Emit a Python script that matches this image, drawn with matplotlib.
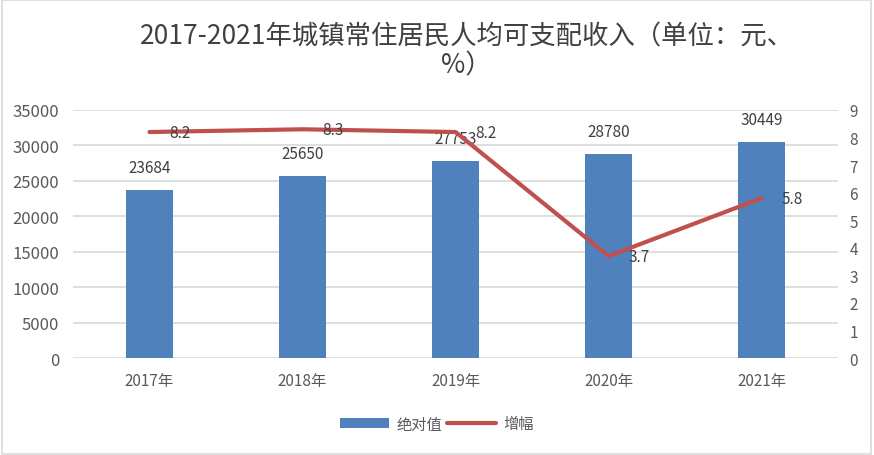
import matplotlib.pyplot as plt
from matplotlib.patches import Rectangle

plt.rcParams['font.family'] = ['Noto Sans CJK SC', 'DejaVu Sans']

# data
years = ['2017年', '2018年', '2019年', '2020年', '2021年']
income = [23684, 25650, 27753, 28780, 30449]
growth = [8.2, 8.3, 8.2, 3.7, 5.8]

bar_color = '#4F81BD'
line_color = '#C0504D'
text_color = '#595959'

fig = plt.figure(figsize=(8.74, 4.56), dpi=100)
ax = fig.add_axes([0.0835, 0.2127, 0.8755, 0.5439])
ax2 = ax.twinx()

x = range(len(years))
bars = ax.bar(x, income, width=0.31, color=bar_color, label='绝对值', zorder=2)
line, = ax2.plot(x, growth, color=line_color, lw=3, label='增幅', zorder=3,
                 solid_capstyle='round', solid_joinstyle='round')

ax.set_xlim(-0.5, 4.5)
ax.set_ylim(0, 35000)
ax.set_yticks(range(0, 35001, 5000))
ax2.set_ylim(0, 9)
ax2.set_yticks(range(0, 10))

ax.set_xticks(list(x))
ax.set_xticklabels(years)
ax.grid(axis='y', color='#D9D9D9', lw=1.2, zorder=0)
ax.set_axisbelow(True)
for a in (ax, ax2):
    for s in a.spines.values():
        s.set_visible(False)
    a.tick_params(length=0, labelsize=11, labelcolor=text_color, pad=8)
ax.tick_params(axis='y', labelsize=12, pad=10)
ax.tick_params(axis='x', pad=10)

# labels
for xi, v in zip(x, income):
    ax.annotate(str(v), (xi, v), xytext=(0, 10), textcoords='offset points',
                ha='center', va='bottom', fontsize=11, color='#404040')
for xi, v in zip(x, growth):
    ax2.annotate(f'{v}', (xi, v), xytext=(14, 0), textcoords='offset points',
                 ha='left', va='center', fontsize=11, color='#404040', zorder=4)

fig.text(0.534, 0.918, '2017-2021年城镇常住居民人均可支配收入（单位：元、',
         ha='center', va='center', fontsize=19, color='#404040')
fig.text(0.534, 0.855, '%）', ha='center', va='center', fontsize=19, color='#404040')

fig.legend(handles=[bars, line], labels=['绝对值', '增幅'], loc='center',
           bbox_to_anchor=(0.5, 0.068), ncol=2, frameon=False, fontsize=11,
           labelcolor=text_color, handlelength=3.2, handletextpad=0.5,
           columnspacing=0.3)

fig.patches.append(Rectangle((0.002, 0.003), 0.995, 0.994, transform=fig.transFigure,
                             fill=False, edgecolor='#D9D9D9', lw=1.2))

fig.savefig('out.png', dpi=100)
